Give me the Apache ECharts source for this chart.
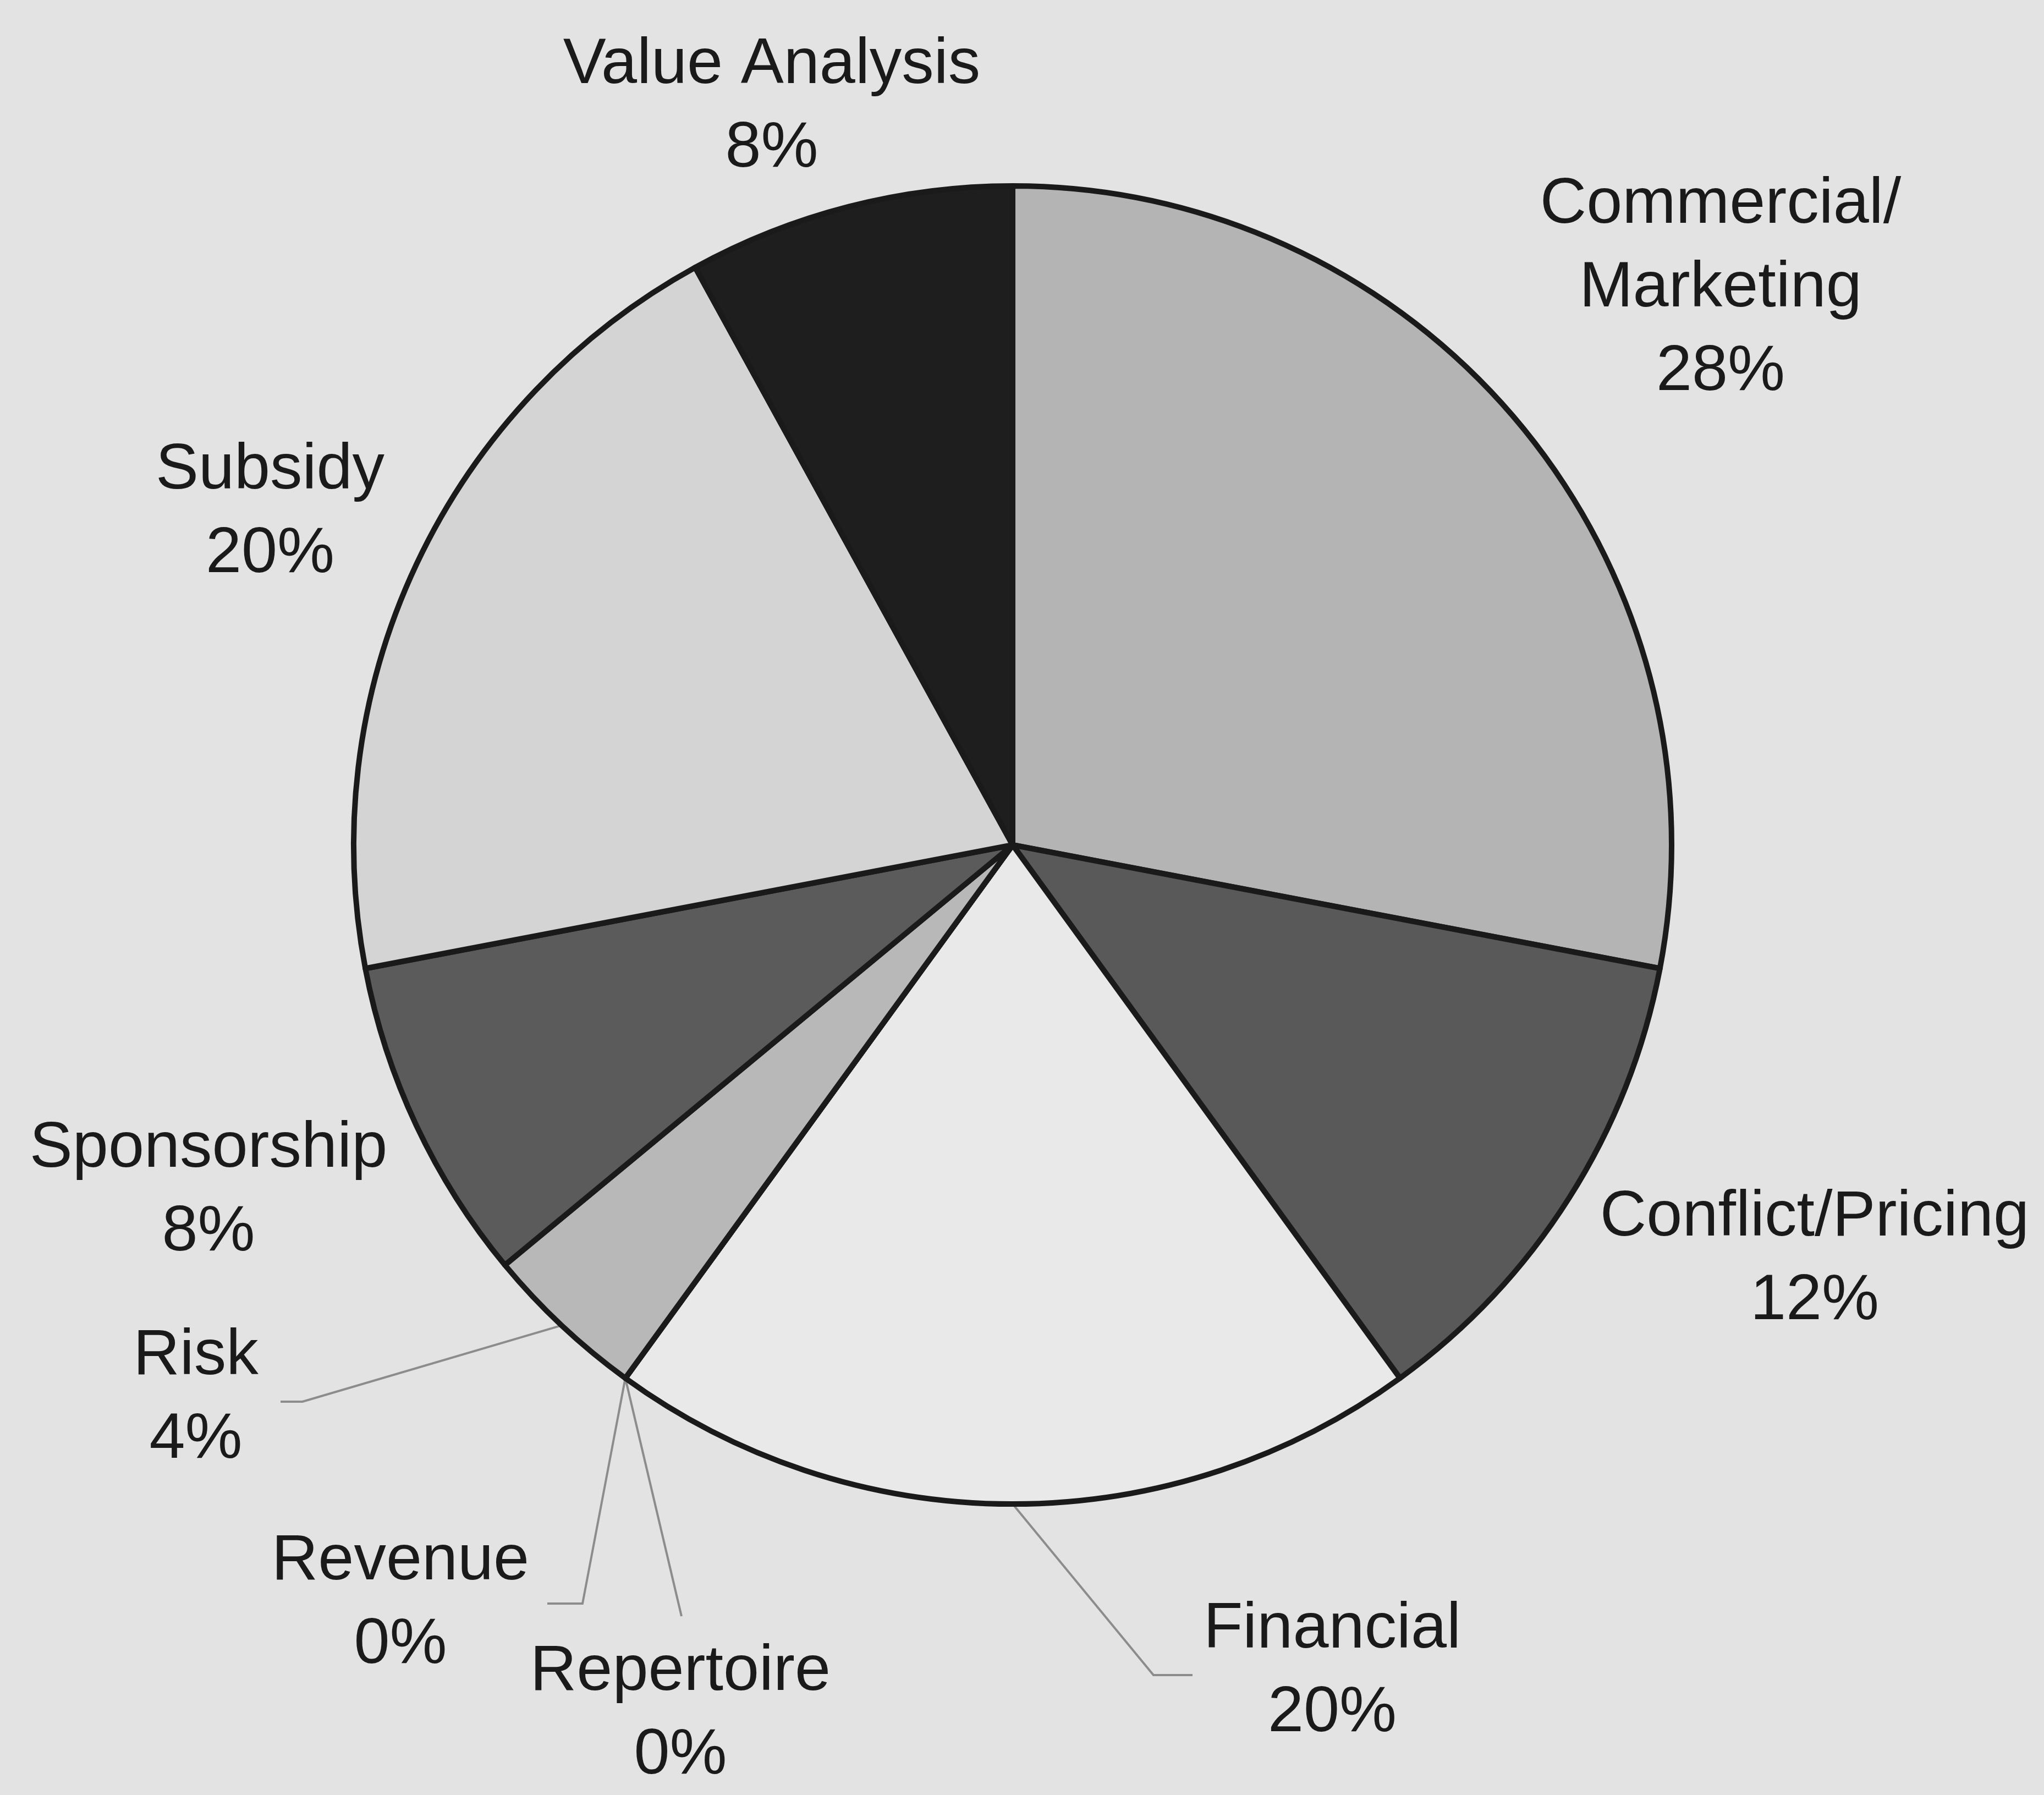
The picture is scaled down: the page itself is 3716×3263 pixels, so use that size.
<!DOCTYPE html>
<html>
<head>
<meta charset="utf-8">
<script src="https://cdn.jsdelivr.net/npm/echarts@6/dist/echarts.min.js"></script>
<style>
  html, body { margin: 0; padding: 0; background: #e3e3e3; }
  #chart { width: 3716px; height: 3263px; }
</style>
</head>
<body>
<div id="chart"></div>
<script>
// slices, clockwise from 12 o'clock
const categories = ['Commercial/\nMarketing', 'Conflict/Pricing', 'Financial', 'Repertoire', 'Revenue', 'Risk', 'Sponsorship', 'Subsidy', 'Value Analysis']
const shares = [28, 12, 20, 0, 0, 4, 8, 20, 8]
const fills = ['#b4b4b4', '#595959', '#e9e9e9', '#bbbbbb', '#bbbbbb', '#b8b8b8', '#5b5b5b', '#d4d4d4', '#1e1e1e']

// where each label sits (centre of the text block), px
const labelAt = [
  [3128, 525], [3299, 2290], [2422, 3039], [1237, 3116], [728, 2915],
  [356, 2542], [379, 2165], [491, 932], [1403, 195]
]
// leader lines: [elbow, tail end] after the point on the rim; null = no line
const guides = [
  null, null,
  [[2097, 3045], [2168, 3045]],
  [[1239, 2938]],
  [[1059, 2915], [995, 2915]],
  [[550, 2548], [510, 2548]],
  null, null, null
]

const chart = echarts.init(document.getElementById('chart'))

const data = categories.map((name, i) => ({
  name: name,
  value: shares[i],
  itemStyle: { color: fills[i] },
  labelLine: { show: guides[i] !== null }
}))

chart.setOption({
  backgroundColor: '#e3e3e3',
  animation: false,
  series: [{
    type: 'pie',
    center: [1841, 1536],
    radius: 1198,
    startAngle: 90,
    clockwise: true,
    avoidLabelOverlap: false,
    minAngle: 0,
    data: data,
    itemStyle: { borderColor: '#1a1a1a', borderWidth: 10 },
    label: {
      show: true,
      position: 'outside',
      fontFamily: 'Liberation Sans, Arial, sans-serif',
      fontSize: 117,
      lineHeight: 152,
      color: '#1a1a1a',
      formatter: p => p.name + '\n' + Math.round(p.percent) + '%'
    },
    labelLine: {
      length: 40,
      length2: 40,
      lineStyle: { color: '#8c8c8c', width: 4 }
    },
    labelLayout: function (params) {
      const i = params.dataIndex
      const out = {
        x: labelAt[i][0],
        y: labelAt[i][1],
        align: 'center',
        verticalAlign: 'middle'
      }
      if (guides[i] && params.labelLinePoints) {
        out.labelLinePoints = [params.labelLinePoints[0]].concat(guides[i])
      }
      return out
    }
  }]
})
</script>
</body>
</html>
